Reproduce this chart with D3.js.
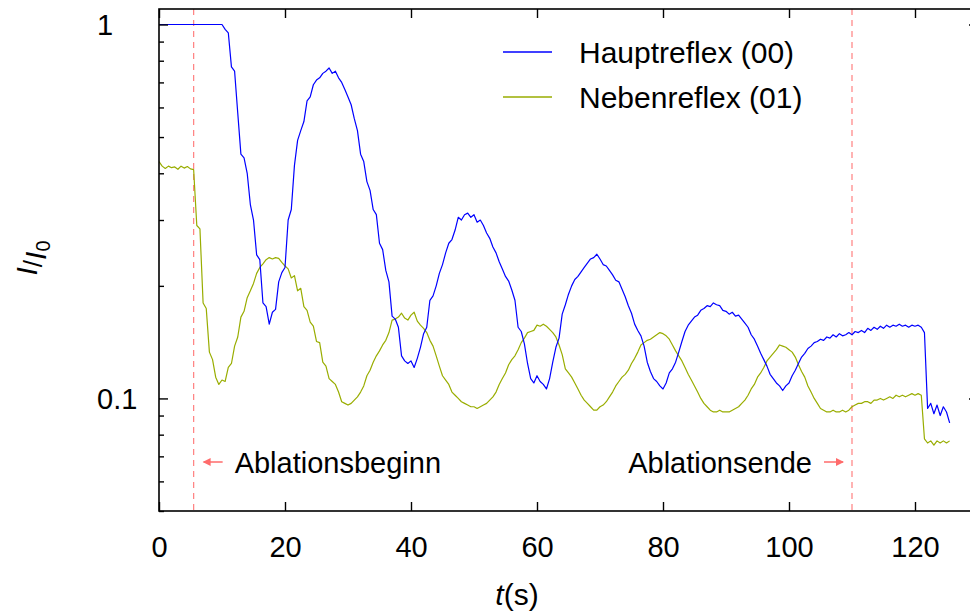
<!DOCTYPE html>
<html><head><meta charset="utf-8">
<script src="https://cdn.jsdelivr.net/npm/d3@7/dist/d3.min.js"></script>
<style>
body{margin:0;background:#fff}
svg text{font-family:"Liberation Sans",Arial,sans-serif;fill:#000}
</style>
</head><body>
<svg id="chart" width="970" height="614"></svg>
<script>
const sampleStep = 0.5; // seconds between samples
const hauptreflex = [
1,1,1,1,1,1,1,1,1,1,
1,1,1,1,1,1,1,1,1,1,
1.0,0.97,0.95,0.77,0.75,0.58,0.45,0.44,0.40,0.33,
0.30,0.242,0.235,0.18,0.176,0.158,0.170,0.173,0.205,0.217,
0.224,0.30,0.32,0.42,0.49,0.52,0.55,0.625,0.64,0.69,
0.71,0.72,0.74,0.75,0.765,0.74,0.75,0.72,0.70,0.67,
0.64,0.61,0.56,0.52,0.45,0.43,0.38,0.36,0.32,0.31,
0.26,0.25,0.22,0.205,0.166,0.163,0.155,0.13,0.126,0.124,
0.126,0.121,0.128,0.137,0.149,0.155,0.183,0.188,0.20,0.216,
0.228,0.245,0.26,0.266,0.282,0.305,0.30,0.31,0.313,0.305,
0.31,0.296,0.30,0.29,0.277,0.268,0.254,0.245,0.232,0.222,
0.212,0.206,0.195,0.183,0.155,0.151,0.14,0.124,0.113,0.11,
0.115,0.111,0.109,0.106,0.113,0.125,0.137,0.145,0.168,0.178,
0.19,0.20,0.208,0.212,0.218,0.224,0.23,0.236,0.238,0.243,
0.236,0.228,0.226,0.22,0.214,0.207,0.205,0.196,0.187,0.177,
0.169,0.158,0.152,0.147,0.138,0.125,0.118,0.113,0.111,0.108,
0.106,0.11,0.117,0.12,0.125,0.133,0.142,0.151,0.157,0.161,
0.165,0.167,0.172,0.174,0.177,0.176,0.180,0.178,0.177,0.172,
0.171,0.168,0.170,0.166,0.167,0.163,0.159,0.155,0.148,0.144,
0.138,0.132,0.127,0.122,0.116,0.113,0.110,0.108,0.105,0.108,
0.110,0.115,0.119,0.124,0.129,0.132,0.136,0.138,0.141,0.142,
0.144,0.143,0.146,0.145,0.148,0.146,0.149,0.147,0.148,0.150,
0.148,0.151,0.150,0.152,0.150,0.154,0.152,0.155,0.153,0.156,
0.154,0.157,0.155,0.157,0.156,0.158,0.156,0.157,0.155,0.157,
0.156,0.157,0.155,0.150,0.094,0.097,0.091,0.096,0.090,0.095,
0.092,0.086
];
const nebenreflex = [
0.43,0.418,0.412,0.418,0.414,0.416,0.410,0.418,0.413,0.417,
0.411,0.409,0.29,0.284,0.18,0.174,0.133,0.127,0.114,0.109,
0.112,0.111,0.121,0.124,0.138,0.146,0.165,0.171,0.186,0.194,
0.203,0.216,0.224,0.229,0.235,0.238,0.236,0.238,0.237,0.231,
0.226,0.222,0.21,0.213,0.194,0.197,0.176,0.172,0.16,0.156,
0.142,0.141,0.125,0.122,0.113,0.111,0.109,0.104,0.098,0.097,
0.096,0.097,0.099,0.101,0.104,0.108,0.115,0.119,0.125,0.130,
0.134,0.139,0.143,0.150,0.162,0.163,0.165,0.169,0.164,0.162,
0.167,0.170,0.161,0.157,0.154,0.150,0.143,0.138,0.130,0.122,
0.115,0.112,0.109,0.104,0.102,0.100,0.098,0.097,0.096,0.095,
0.095,0.094,0.095,0.096,0.097,0.099,0.101,0.104,0.109,0.113,
0.117,0.123,0.127,0.130,0.135,0.141,0.145,0.150,0.151,0.152,
0.157,0.156,0.158,0.156,0.153,0.150,0.146,0.139,0.131,0.120,
0.117,0.114,0.110,0.106,0.102,0.099,0.097,0.095,0.093,0.093,
0.095,0.096,0.098,0.101,0.104,0.108,0.111,0.114,0.116,0.119,
0.124,0.128,0.133,0.139,0.141,0.143,0.144,0.146,0.148,0.150,
0.149,0.147,0.144,0.139,0.134,0.130,0.126,0.121,0.116,0.112,
0.108,0.104,0.100,0.097,0.095,0.093,0.092,0.092,0.093,0.092,
0.092,0.092,0.093,0.094,0.095,0.097,0.099,0.102,0.106,0.109,
0.114,0.117,0.121,0.126,0.129,0.132,0.135,0.139,0.138,0.137,
0.135,0.133,0.129,0.123,0.118,0.114,0.108,0.104,0.100,0.097,
0.094,0.093,0.092,0.092,0.093,0.092,0.092,0.093,0.092,0.093,
0.095,0.096,0.097,0.097,0.098,0.098,0.097,0.099,0.099,0.100,
0.099,0.100,0.101,0.100,0.102,0.101,0.102,0.101,0.102,0.103,
0.102,0.103,0.102,0.078,0.076,0.077,0.075,0.077,0.076,0.077,
0.076,0.077
];
const seriesNames = ["Hauptreflex (00)", "Nebenreflex (01)"];
const seriesColors = ["#0000ff", "#99ad00"];
const xTickValues = [0, 20, 40, 60, 80, 100, 120];
const yMajorTicks = [0.1, 1];
const yTickLabels = ["0.1", "1"];
const yMinorTicks = [0.05, 0.06, 0.07, 0.08, 0.09, 0.2, 0.3, 0.4, 0.5, 0.6, 0.7, 0.8, 0.9];
const eventTimes = [5.5, 110];
const eventLabels = ["Ablationsbeginn", "Ablationsende"];

// ---- layout ----
const L = 159, R = 978, T = 9, B = 511;
const x = d3.scaleLinear().domain([0, 130]).range([L, R]);
const y = d3.scaleLog().domain([0.05, 1.1]).range([B, T]);

const svg = d3.select("#chart");
svg.append("defs").append("clipPath").attr("id", "plotclip")
  .append("rect").attr("x", L).attr("y", T).attr("width", R - L).attr("height", B - T);

// event dashed lines
const red = "#ff6b6b";
svg.append("g").selectAll("line").data(eventTimes).join("line")
  .attr("x1", d => x(d)).attr("x2", d => x(d)).attr("y1", T).attr("y2", B)
  .attr("stroke", "#ff8080").attr("stroke-width", 1.2).attr("stroke-dasharray", "6,5");

// series
const line = d3.line().x((d, i) => x(i * sampleStep)).y(d => y(d));
const gLines = svg.append("g").attr("clip-path", "url(#plotclip)");
[nebenreflex, hauptreflex].forEach((s, k) => {
  gLines.append("path").attr("d", line(s)).attr("fill", "none")
    .attr("stroke", k === 0 ? seriesColors[1] : seriesColors[0])
    .attr("stroke-width", 1.2).attr("stroke-linejoin", "round");
});

// axes (ticks inward)
const fs = 29;
const gB = svg.append("g").attr("transform", `translate(0,${B})`)
  .call(d3.axisBottom(x).tickValues(xTickValues).tickSize(-9).tickPadding(25).tickFormat(d3.format("d")));
const gT = svg.append("g").attr("transform", `translate(0,${T})`)
  .call(d3.axisTop(x).tickValues(xTickValues).tickSize(-9).tickFormat(""));
const gL = svg.append("g").attr("transform", `translate(${L},0)`)
  .call(d3.axisLeft(y).tickValues(yMajorTicks).tickSize(-9).tickFormat((d, i) => yTickLabels[i]));
const gLm = svg.append("g").attr("transform", `translate(${L},0)`)
  .call(d3.axisLeft(y).tickValues(yMinorTicks).tickSize(-5).tickFormat(""));
const gR = svg.append("g").attr("transform", `translate(${R},0)`)
  .call(d3.axisRight(y).tickValues(yMajorTicks).tickSize(-9).tickFormat(""));
const gRm = svg.append("g").attr("transform", `translate(${R},0)`)
  .call(d3.axisRight(y).tickValues(yMinorTicks).tickSize(-5).tickFormat(""));
[gB, gT, gL, gLm, gR, gRm].forEach(g => {
  g.selectAll(".domain").attr("stroke", "#000").attr("stroke-width", 1.6).attr("d", null);
  g.select(".domain").remove();
  g.selectAll(".tick line").attr("stroke", "#000").attr("stroke-width", 1.4);
  g.selectAll("text").attr("font-size", fs).attr("font-family", "'Liberation Sans',Arial,sans-serif");
});
gL.selectAll("text").attr("text-anchor", "start").attr("x", 97 - L).attr("dy", "0.36em");

// frame
svg.append("rect").attr("x", L).attr("y", T).attr("width", R - L).attr("height", B - T)
  .attr("fill", "none").attr("stroke", "#000").attr("stroke-width", 1.6);

// annotations
const arrowHead = (g, xTip, yy, dir) => {
  g.append("path")
    .attr("d", `M${xTip},${yy} L${xTip + dir * 8},${yy - 4} L${xTip + dir * 8},${yy + 4} Z`)
    .attr("fill", red);
};
const gA = svg.append("g");
const ay = 462;
gA.append("line").attr("x1", x(eventTimes[0]) + 10).attr("x2", x(eventTimes[0]) + 29)
  .attr("y1", ay).attr("y2", ay).attr("stroke", red).attr("stroke-width", 1.5);
arrowHead(gA, x(eventTimes[0]) + 9, ay, 1);
gA.append("text").attr("x", x(eventTimes[0]) + 41).attr("y", 473)
  .attr("font-size", 29).text(eventLabels[0]);
gA.append("line").attr("x1", x(eventTimes[1]) - 28).attr("x2", x(eventTimes[1]) - 9)
  .attr("y1", ay).attr("y2", ay).attr("stroke", red).attr("stroke-width", 1.5);
arrowHead(gA, x(eventTimes[1]) - 8, ay, -1);
gA.append("text").attr("x", x(eventTimes[1]) - 40).attr("y", 473)
  .attr("text-anchor", "end").attr("font-size", 29).text(eventLabels[1]);

// legend
const gLeg = svg.append("g");
[0, 1].forEach(i => {
  const ly = 52 + i * 45;
  gLeg.append("line").attr("x1", 503).attr("x2", 552).attr("y1", ly).attr("y2", ly)
    .attr("stroke", seriesColors[i]).attr("stroke-width", 1.5);
  gLeg.append("text").attr("x", 579).attr("y", ly + 11).attr("font-size", 30).text(seriesNames[i]);
});

// axis titles
const xt = svg.append("text").attr("x", 517).attr("y", 605).attr("text-anchor", "middle").attr("font-size", 30);
xt.append("tspan").attr("font-style", "italic").text("t");
xt.append("tspan").text("(s)");

const yt = svg.append("text").attr("transform", "translate(42,258) rotate(-90)")
  .attr("text-anchor", "middle").attr("font-size", 30);
yt.append("tspan").attr("font-style", "italic").attr("dy", -5).text("I");
yt.append("tspan").attr("dy", 5).attr("font-size", 26).text("/");
yt.append("tspan").attr("font-style", "italic").attr("dy", 4).text("I");
yt.append("tspan").attr("font-size", 20).attr("dy", 4).text("0");
</script>
</body></html>
